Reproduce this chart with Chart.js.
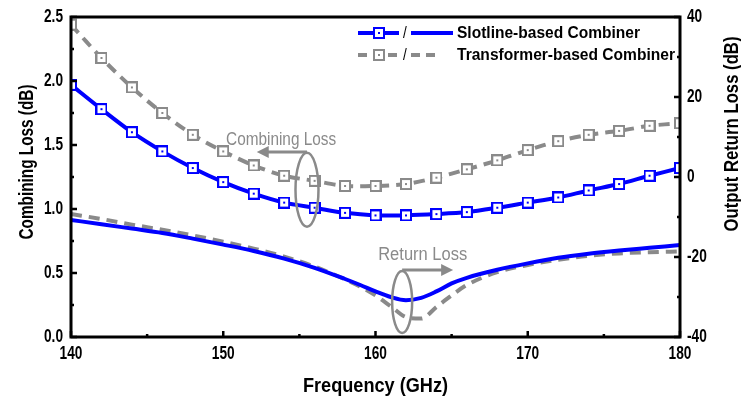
<!DOCTYPE html>
<html>
<head>
<meta charset="utf-8">
<script src="https://cdn.jsdelivr.net/npm/chart.js@4.4.0/dist/chart.umd.min.js"></script>
<style>
  html, body { margin: 0; padding: 0; background: #fff; }
  #wrap { width: 741px; height: 398px; }
</style>
</head>
<body>
<div id="wrap"><canvas id="lossChart"></canvas></div>
<script>
const FONT = "'Liberation Sans', Arial, sans-serif";
const BLUE = '#0000ff';
const GRAY = '#8a8a8a';

// combining loss (left axis), one marker every 2 GHz
const freqMarks = [140, 142, 144, 146, 148, 150, 152, 154, 156, 158, 160, 162, 164, 166, 168, 170, 172, 174, 176, 178, 180];
const slotlineCL = [1.97, 1.78, 1.60, 1.45, 1.32, 1.21, 1.12, 1.05, 1.01, 0.97, 0.95, 0.95, 0.96, 0.976, 1.01, 1.05, 1.09, 1.145, 1.195, 1.26, 1.32];
const transformerCL = [2.44, 2.18, 1.95, 1.75, 1.58, 1.45, 1.34, 1.26, 1.22, 1.18, 1.18, 1.195, 1.245, 1.31, 1.38, 1.46, 1.53, 1.58, 1.61, 1.65, 1.67];

// output return loss (right axis)
const freqRL = [140, 142, 144, 146, 148, 150, 152, 154, 156, 158, 159, 160, 161, 162, 163, 164, 165, 166, 168, 170, 172, 174, 176, 178, 180];
const slotlineRL = [-10.75, -11.8, -12.9, -14.0, -15.4, -16.9, -18.5, -20.4, -22.7, -25.5, -27.0, -28.6, -30.0, -30.8, -30.2, -28.6, -26.6, -25.2, -23.2, -21.6, -20.2, -19.2, -18.4, -17.7, -17.0];
const transformerRL = [-9.25, -10.5, -11.9, -13.2, -14.6, -16.2, -17.9, -19.9, -22.4, -25.6, -27.4, -29.6, -32.3, -35.0, -35.4, -32.5, -29.6, -27.0, -23.8, -22.0, -20.7, -19.7, -19.1, -18.8, -18.6];

const leftTicks = [0, 0.5, 1.0, 1.5, 2.0, 2.5];
const rightTicks = [-40, -20, 0, 20, 40];
const freqTicks = [140, 150, 160, 170, 180];

function pts(xs, ys) {
  return xs.map((x, i) => ({ x: x, y: ys[i] }));
}

// hollow square marker with a dot in the middle
function squareMarker(color) {
  const c = document.createElement('canvas');
  c.width = 12; c.height = 12;
  const g = c.getContext('2d');
  g.fillStyle = '#fff';
  g.fillRect(1, 1, 10, 10);
  g.strokeStyle = color;
  g.lineWidth = 2;
  g.strokeRect(1, 1, 10, 10);
  g.fillStyle = color;
  g.fillRect(5, 5, 2, 2);
  return c;
}

// narrow text: the original uses a condensed face, so squeeze horizontally
function narrow(ctx, text, x, y, font, align, sx, rot) {
  ctx.save();
  ctx.font = font;
  ctx.textAlign = align;
  ctx.textBaseline = 'middle';
  ctx.translate(x, y);
  if (rot) ctx.rotate(rot);
  ctx.scale(sx, 1);
  ctx.fillText(text, 0, 0);
  ctx.restore();
}

// squeeze to a given width (centered)
function fitText(ctx, text, x, y, font, width, rot) {
  ctx.save();
  ctx.font = font;
  const w = ctx.measureText(text).width;
  ctx.restore();
  narrow(ctx, text, x, y, font, 'center', width / w, rot);
}

function arrow(ctx, x1, y, x2) {
  const dir = x2 > x1 ? 1 : -1;
  ctx.beginPath();
  ctx.moveTo(x1, y);
  ctx.lineTo(x2 - dir * 10, y);
  ctx.stroke();
  ctx.beginPath();
  ctx.moveTo(x2, y);
  ctx.lineTo(x2 - dir * 12, y - 6);
  ctx.lineTo(x2 - dir * 12, y + 6);
  ctx.closePath();
  ctx.fill();
}

const decorations = {
  id: 'decorations',
  afterDraw(chart) {
    const ctx = chart.ctx;
    const a = chart.chartArea;
    const sx = chart.scales.x, sy = chart.scales.y, sy2 = chart.scales.y2;
    ctx.save();

    // frame
    ctx.strokeStyle = '#000';
    ctx.lineWidth = 3;
    ctx.strokeRect(a.left, a.top, a.right - a.left, a.bottom - a.top);

    // inward tick marks
    ctx.lineWidth = 2.5;
    ctx.beginPath();
    for (let f = 140; f <= 180; f += 5) {
      const x = sx.getPixelForValue(f);
      const len = f % 10 === 0 ? 6 : 3;
      ctx.moveTo(x, a.bottom); ctx.lineTo(x, a.bottom - len);
    }
    for (let v = 0; v <= 2.5; v += 0.25) {
      const y = sy.getPixelForValue(v);
      const len = Math.abs(v * 2 - Math.round(v * 2)) < 0.01 ? 6 : 3;
      ctx.moveTo(a.left, y); ctx.lineTo(a.left + len, y);
    }
    for (let v = -40; v <= 40; v += 10) {
      const y = sy2.getPixelForValue(v);
      const len = v % 20 === 0 ? 6 : 3;
      ctx.moveTo(a.right, y); ctx.lineTo(a.right - len, y);
    }
    ctx.stroke();

    // tick labels
    ctx.fillStyle = '#000';
    const tf = 'bold 18px ' + FONT;
    freqTicks.forEach(v => narrow(ctx, String(v), sx.getPixelForValue(v), a.bottom + 17, tf, 'center', 0.76));
    leftTicks.forEach(v => narrow(ctx, v.toFixed(1), a.left - 8, sy.getPixelForValue(v), tf, 'right', 0.76));
    rightTicks.forEach(v => narrow(ctx, String(v), a.right + 7, sy2.getPixelForValue(v), tf, 'left', 0.76));

    // axis titles
    fitText(ctx, 'Frequency (GHz)', (a.left + a.right) / 2, 386, 'bold 21px ' + FONT, 145);
    fitText(ctx, 'Combining Loss (dB)', 27, 162, 'bold 21px ' + FONT, 155, -Math.PI / 2);
    fitText(ctx, 'Output Return Loss (dB)', 732, 134, 'bold 21px ' + FONT, 195, -Math.PI / 2);

    // annotations
    ctx.strokeStyle = GRAY;
    ctx.fillStyle = GRAY;
    ctx.lineWidth = 2.5;
    let cx = sx.getPixelForValue(155.5), cy = sy.getPixelForValue(1.15);
    ctx.beginPath();
    ctx.ellipse(cx, cy, 11.5, 37, 0, 0, Math.PI * 2);
    ctx.stroke();
    ctx.lineWidth = 3;
    arrow(ctx, cx, sy.getPixelForValue(1.445), sx.getPixelForValue(152.2));
    fitText(ctx, 'Combining Loss', sx.getPixelForValue(153.8), sy.getPixelForValue(1.54), '18px ' + FONT, 110);

    ctx.lineWidth = 2.5;
    cx = sx.getPixelForValue(161.75); cy = sy2.getPixelForValue(-31.25);
    ctx.beginPath();
    ctx.ellipse(cx, cy, 10, 31, 0, 0, Math.PI * 2);
    ctx.stroke();
    ctx.lineWidth = 3;
    arrow(ctx, cx, sy2.getPixelForValue(-23.25), sx.getPixelForValue(165.1));
    fitText(ctx, 'Return Loss', sx.getPixelForValue(163.1), sy2.getPixelForValue(-19.5), '18px ' + FONT, 89);

    // legend
    const rows = [
      { y: 33, color: BLUE, dash: [], text: 'Slotline-based Combiner', x2: 453, w: 183 },
      { y: 55, color: GRAY, dash: [9, 6], text: 'Transformer-based Combiner', x2: 440, w: 218 }
    ];
    rows.forEach(r => {
      ctx.strokeStyle = r.color;
      ctx.lineWidth = 4;
      ctx.setLineDash(r.dash);
      ctx.beginPath();
      ctx.moveTo(358, r.y); ctx.lineTo(399, r.y);
      ctx.moveTo(411, r.y); ctx.lineTo(r.x2, r.y);
      ctx.stroke();
      ctx.setLineDash([]);
      ctx.drawImage(squareMarker(r.color), 373, r.y - 6);
      ctx.fillStyle = '#000';
      narrow(ctx, '/', 405, r.y, '17px ' + FONT, 'center', 0.8);
      fitText(ctx, r.text, 457 + r.w / 2, r.y, 'bold 17px ' + FONT, r.w);
    });

    ctx.restore();
  }
};

new Chart(document.getElementById('lossChart'), {
  type: 'line',
  data: {
    datasets: [
      {
        data: pts(freqRL, slotlineRL), yAxisID: 'y2',
        borderColor: BLUE, borderWidth: 4, pointRadius: 0,
        cubicInterpolationMode: 'monotone'
      },
      {
        data: pts(freqRL, transformerRL), yAxisID: 'y2',
        borderColor: GRAY, borderWidth: 4, borderDash: [11, 7], pointRadius: 0,
        cubicInterpolationMode: 'monotone'
      },
      {
        data: pts(freqMarks, transformerCL), yAxisID: 'y',
        borderColor: GRAY, borderWidth: 4, borderDash: [11, 7],
        pointStyle: squareMarker(GRAY), tension: 0.3
      },
      {
        data: pts(freqMarks, slotlineCL), yAxisID: 'y',
        borderColor: BLUE, borderWidth: 4,
        pointStyle: squareMarker(BLUE), tension: 0.3
      }
    ]
  },
  options: {
    responsive: true,
    maintainAspectRatio: false,
    animation: false,
    layout: { padding: { top: 17, left: 0, right: 0, bottom: 0 } },
    plugins: { legend: { display: false }, tooltip: { enabled: false } },
    scales: {
      x: {
        type: 'linear', min: 140, max: 180,
        afterFit: s => { s.height = 61; },
        ticks: { display: false },
        grid: { display: false }, border: { display: false }
      },
      y: {
        position: 'left', min: 0, max: 2.5,
        afterFit: s => { s.width = 71; },
        ticks: { display: false },
        grid: { display: false }, border: { display: false }
      },
      y2: {
        position: 'right', min: -40, max: 40,
        afterFit: s => { s.width = 61; },
        ticks: { display: false },
        grid: { display: false }, border: { display: false }
      }
    }
  },
  plugins: [decorations]
});
</script>
</body>
</html>
